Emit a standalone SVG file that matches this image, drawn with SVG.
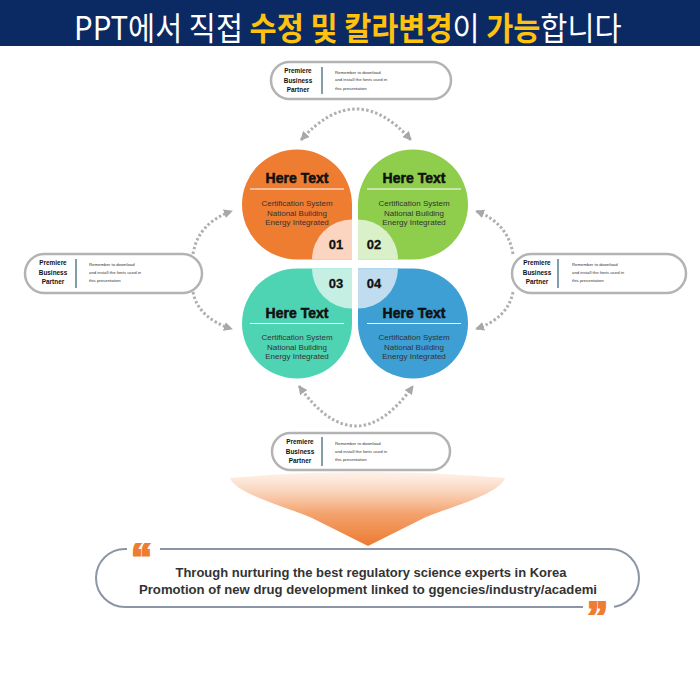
<svg xmlns="http://www.w3.org/2000/svg" width="700" height="700" viewBox="0 0 700 700">
<defs>
<style>
.hdr{font-family:"Noto Sans CJK KR","Noto Sans",sans-serif;font-size:32px;fill:#ffffff;}
.yel{fill:#ffc20e;font-weight:bold;}
.ttl{font-family:"Liberation Sans",Arial,sans-serif;font-weight:bold;font-size:14px;fill:#111;stroke:#111;stroke-width:0.5;text-anchor:middle;}
.body{font-family:"Liberation Sans",Arial,sans-serif;font-size:8px;fill:#333;text-anchor:middle;}
.num{font-family:"Liberation Sans",Arial,sans-serif;font-weight:bold;font-size:13px;fill:#111;stroke:#111;stroke-width:0.3;text-anchor:middle;}
.pill{fill:#ffffff;stroke:#b3b3b3;stroke-width:2.5;}
.lab{font-family:"Liberation Sans",Arial,sans-serif;font-weight:bold;font-size:6.4px;fill:#111;text-anchor:middle;}
.sm{font-family:"Liberation Sans",Arial,sans-serif;font-size:4.3px;fill:#333;}
.sep{stroke:#2f5f6f;stroke-width:1.2;}
.dot{fill:none;stroke:#b0b0b0;stroke-width:3;stroke-dasharray:2.5 2.2;}
.wl{stroke:#ffffff;stroke-width:1;}
.q{font-family:"Liberation Sans",Arial,sans-serif;font-weight:bold;font-size:13.5px;fill:#333;text-anchor:middle;}
.qm{font-family:"Liberation Sans",Arial,sans-serif;font-weight:bold;font-size:42px;fill:#ee7d32;stroke:#ee7d32;stroke-width:2.2;}
</style>
<marker id="ah" viewBox="0 0 10 10" refX="9" refY="5" markerWidth="9" markerHeight="9" markerUnits="userSpaceOnUse" orient="auto-start-reverse">
<path d="M0,0 L10,5 L0,10 Z" fill="#a8a8a8"/>
</marker>
<linearGradient id="fg" x1="0" y1="0" x2="0" y2="1">
<stop offset="0" stop-color="#fde9dc" stop-opacity="0.6"/>
<stop offset="0.55" stop-color="#f4a470"/>
<stop offset="1" stop-color="#ec7a30"/>
</linearGradient>
</defs>

<rect x="0" y="0" width="700" height="46" fill="#0b2a64"/>
<text class="hdr" transform="translate(74,40) scale(0.92,1)" x="0" y="0">PPT에서 직접 <tspan class="yel">수정 및 칼라변경</tspan>이 <tspan class="yel">가능</tspan>합니다</text>

<g id="connectors">
<path class="dot" d="M301,140 Q356,78 411,140" marker-start="url(#ah)" marker-end="url(#ah)"/>
<path class="dot" d="M299,386 Q356,466 413,386" marker-start="url(#ah)" marker-end="url(#ah)"/>
<path class="dot" d="M193,254 Q198,223 232,211" marker-end="url(#ah)"/>
<path class="dot" d="M193,292 Q198,318 232,329" marker-end="url(#ah)"/>
<path class="dot" d="M513,254 Q508,223 476,211" marker-end="url(#ah)"/>
<path class="dot" d="M513,292 Q508,318 476,329" marker-end="url(#ah)"/>
</g>

<g id="petal-01">
<path d="M352,259.5 L297,259.5 A55,55 0 0 1 242,204.5 A55,55 0 0 1 297,149.5 A55,55 0 0 1 352,204.5 Z" fill="#ee7d32"/>
<path d="M352,259.5 L312,259.5 A40,40 0 0 1 352,219.5 Z" fill="#fbd5bf"/>
<text class="ttl" x="297" y="183">Here Text</text>
<line class="wl" x1="250" y1="189" x2="344" y2="189"/>
<text class="body" x="297" y="206">Certification System</text>
<text class="body" x="297" y="216">National Building</text>
<text class="body" x="297" y="225">Energy Integrated</text>
<text class="num" x="336" y="249">01</text>
</g>

<g id="petal-02">
<path d="M358,259.5 L413,259.5 A55,55 0 0 0 468,204.5 A55,55 0 0 0 413,149.5 A55,55 0 0 0 358,204.5 Z" fill="#8fcd4c"/>
<path d="M358,259.5 L398,259.5 A40,40 0 0 0 358,219.5 Z" fill="#daf0c8"/>
<text class="ttl" x="414" y="183">Here Text</text>
<line class="wl" x1="367" y1="189" x2="461" y2="189"/>
<text class="body" x="414" y="206">Certification System</text>
<text class="body" x="414" y="216">National Building</text>
<text class="body" x="414" y="225">Energy Integrated</text>
<text class="num" x="374" y="249">02</text>
</g>

<g id="petal-03">
<path d="M352,268.5 L297,268.5 A55,55 0 0 0 242,323.5 A55,55 0 0 0 297,378.5 A55,55 0 0 0 352,323.5 Z" fill="#4fd4b3"/>
<path d="M352,268.5 L312,268.5 A40,40 0 0 0 352,308.5 Z" fill="#c6efe3"/>
<text class="ttl" x="297" y="318">Here Text</text>
<line class="wl" x1="250" y1="323.5" x2="344" y2="323.5"/>
<text class="body" x="297" y="340">Certification System</text>
<text class="body" x="297" y="350">National Building</text>
<text class="body" x="297" y="359">Energy Integrated</text>
<text class="num" x="336" y="288">03</text>
</g>

<g id="petal-04">
<path d="M358,268.5 L413,268.5 A55,55 0 0 1 468,323.5 A55,55 0 0 1 413,378.5 A55,55 0 0 1 358,323.5 Z" fill="#3d9fd4"/>
<path d="M358,268.5 L398,268.5 A40,40 0 0 1 358,308.5 Z" fill="#c0dcef"/>
<text class="ttl" x="414" y="318">Here Text</text>
<line class="wl" x1="367" y1="323.5" x2="461" y2="323.5"/>
<text class="body" x="414" y="340">Certification System</text>
<text class="body" x="414" y="350">National Building</text>
<text class="body" x="414" y="359">Energy Integrated</text>
<text class="num" x="374" y="288">04</text>
</g>

<g id="pill-top">
<rect class="pill" x="271" y="62" width="180" height="37" rx="18.5"/>
<text class="lab" x="298" y="73">Premiere</text>
<text class="lab" x="298" y="83">Business</text>
<text class="lab" x="298" y="92">Partner</text>
<line class="sep" x1="322" y1="67" x2="322" y2="94"/>
<text class="sm" x="335" y="73.5">Remember to download</text>
<text class="sm" x="335" y="81">and install the fonts used in</text>
<text class="sm" x="335" y="89.5">this presentation</text>
</g>

<g id="pill-left">
<rect class="pill" x="25" y="254" width="177" height="39" rx="19.5"/>
<text class="lab" x="53" y="265">Premiere</text>
<text class="lab" x="53" y="275">Business</text>
<text class="lab" x="53" y="284">Partner</text>
<line class="sep" x1="76" y1="259" x2="76" y2="288"/>
<text class="sm" x="89" y="266">Remember to download</text>
<text class="sm" x="89" y="274">and install the fonts used in</text>
<text class="sm" x="89" y="282">this presentation</text>
</g>

<g id="pill-right">
<rect class="pill" x="512" y="254" width="174" height="39" rx="19.5"/>
<text class="lab" x="537" y="265">Premiere</text>
<text class="lab" x="537" y="275">Business</text>
<text class="lab" x="537" y="284">Partner</text>
<line class="sep" x1="558" y1="259" x2="558" y2="288"/>
<text class="sm" x="572" y="266">Remember to download</text>
<text class="sm" x="572" y="274">and install the fonts used in</text>
<text class="sm" x="572" y="282">this presentation</text>
</g>

<g id="pill-bottom">
<rect class="pill" x="272" y="433" width="178" height="37" rx="18.5"/>
<text class="lab" x="300" y="444">Premiere</text>
<text class="lab" x="300" y="454">Business</text>
<text class="lab" x="300" y="463">Partner</text>
<line class="sep" x1="322" y1="437" x2="322" y2="466"/>
<text class="sm" x="335" y="445">Remember to download</text>
<text class="sm" x="335" y="453">and install the fonts used in</text>
<text class="sm" x="335" y="461">this presentation</text>
</g>

<g id="funnel-arrow">
<path d="M230,478 Q367,466 505,478 C500,495 440,510 424,518 L368,546 L312,518 C296,510 236,495 230,478 Z" fill="url(#fg)"/>
</g>

<g id="quote-box">
<rect x="96" y="549" width="543" height="58" rx="29" fill="#ffffff" stroke="#8c95a5" stroke-width="2"/>
<rect x="127" y="541" width="33" height="16" fill="#ffffff"/>
<rect x="583" y="600" width="31" height="16" fill="#ffffff"/>
<text class="qm" x="131" y="573">“</text>
<text class="qm" x="587" y="631">”</text>
<text class="q" x="371" y="577" textLength="391" lengthAdjust="spacingAndGlyphs">Through nurturing the best regulatory science experts in Korea</text>
<text class="q" x="368" y="594" textLength="458" lengthAdjust="spacingAndGlyphs">Promotion of new drug development linked to ggencies/industry/academi</text>
</g>
</svg>
